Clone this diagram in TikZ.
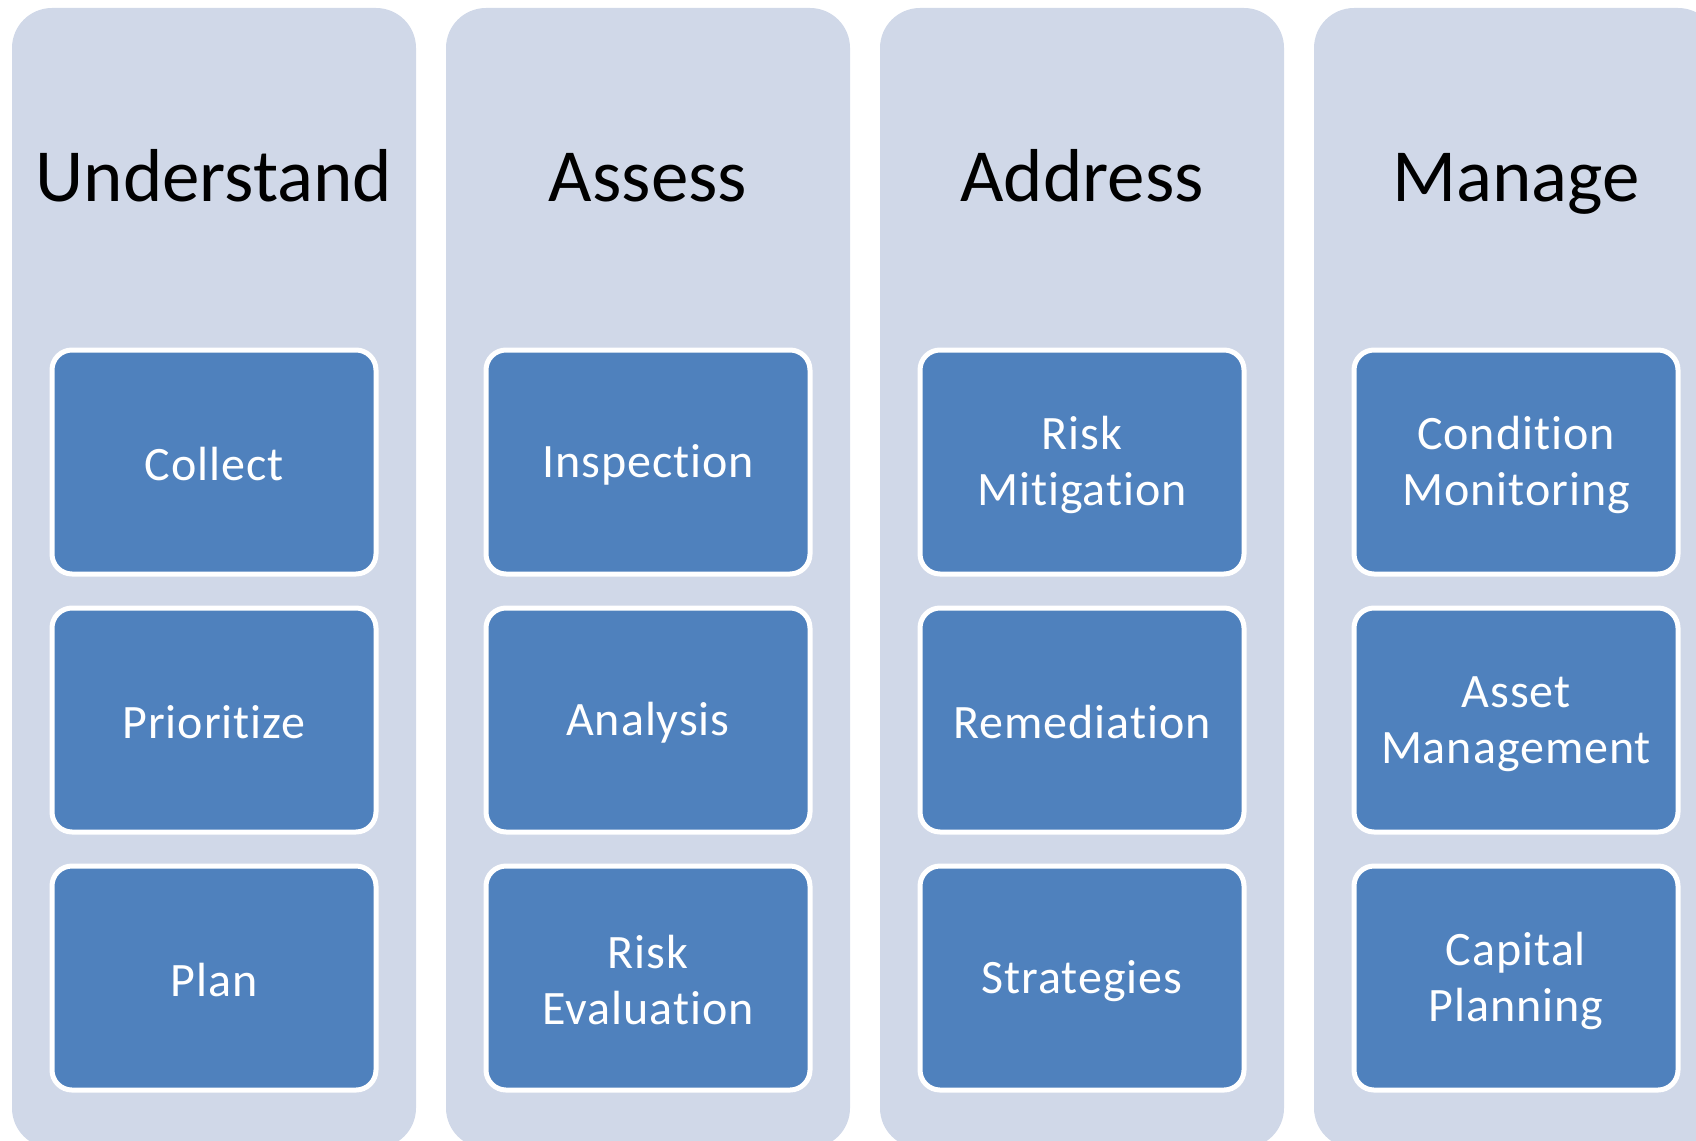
\documentclass[tikz,border=0pt]{standalone}
\usepackage{fontspec}
\setmainfont{Carlito}
\usetikzlibrary{positioning}

\definecolor{lanefill}{HTML}{D0D8E8}
\definecolor{stepfill}{HTML}{4F81BD}

% fixed line strut so every label sits at the same height
\newcommand{\lnstrut}{\rule[-3pt]{0pt}{42pt}}

\tikzset{
  lane/.style={rectangle, fill=lanefill, rounded corners=40pt,
    minimum width=404pt, minimum height=1140pt, inner sep=0pt},
  lanetitle/.style={anchor=base, text=black, font=\fontsize{75}{90}\selectfont},
  stepbox/.style={rectangle, fill=stepfill, draw=white, line width=5pt,
    rounded corners=20pt, minimum width=324pt, minimum height=224pt,
    text=white, align=center, inner sep=0pt,
    font=\fontsize{48}{56}\selectfont\addfontfeature{LetterSpace=2,Ligatures=NoCommon}}
}

\begin{document}
\begin{tikzpicture}[x=1pt, y=-1pt]

      \useasboundingbox (0,0) rectangle (1696,1140);
      \clip (0,0) rectangle (1696,1140);

      % background lanes
      \node[lane] (laneU) at (214,578)  {};
      \node[lane] (laneA) at (648,578)  {};
      \node[lane] (laneD) at (1082,578) {};
      \node[lane] (laneM) at (1516,578) {};

      % lane titles
      \node[lanetitle] (titleU) at (214,201)  {Understand};
      \node[lanetitle] (titleA) at (648,201)  {Assess};
      \node[lanetitle] (titleD) at (1082,201) {Address};
      \node[lanetitle] (titleM) at (1516,201) {Manage};

      % step boxes
      \begin{scope}[every node/.style={stepbox}]
        \node (collect)    at (214,462)  {Collect\lnstrut};
        \node (prioritize) at (214,720)  {Prioritize\lnstrut};
        \node (plan)       at (214,978)  {Plan\lnstrut};

        \node (inspection) at (648,462)  {Inspection\lnstrut};
        \node (analysis)   at (648,720)  {Analysis\lnstrut};
        \node (riskeval)   at (648,978)  {Risk\lnstrut\\Evaluation\lnstrut};

        \node (riskmit)    at (1082,462) {Risk\lnstrut\\Mitigation\lnstrut};
        \node (remed)      at (1082,720) {Remediation\lnstrut};
        \node (strat)      at (1082,978) {Strategies\lnstrut};

        \node (condmon)    at (1516,462) {Condition\lnstrut\\Monitoring\lnstrut};
        \node (assetman)   at (1516,720) {Asset\lnstrut\\Management\lnstrut};
        \node (capplan)    at (1516,978) {Capital\lnstrut\\Planning\lnstrut};
      \end{scope}

    \end{tikzpicture}
\end{document}
